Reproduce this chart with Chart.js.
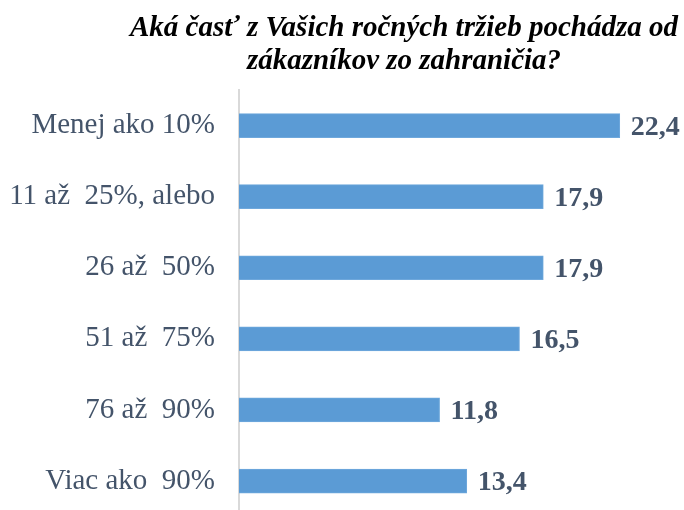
<html>
<head>
    <meta name="viewport" content="width=device-width">
    <script src="https://cdn.jsdelivr.net/npm/chart.js@4.4.1/dist/chart.umd.min.js"></script>
    <style>
        *{padding:0; margin:0; background-color: transparent;}
        body{overflow:hidden; background:#fff;}
        #title{position:absolute; left:124px; top:10px; width:560px; text-align:center;
               font-family:'Liberation Serif'; font-weight:bold; font-style:italic;
               font-size:29px; line-height:33px; color:#000;}
        #chart{position:absolute; left:0; top:0;}
    </style>
</head>
<body>
    <canvas id="chart" width="684" height="550"></canvas>
    <div id="title"></div>
    <script>
        var categories = ["Menej ako 10%", "11 až  25%, alebo", "26 až  50%", "51 až  75%", "76 až  90%", "Viac ako  90%"];
        var values = [22.4, 17.9, 17.9, 16.5, 11.8, 13.4];
        var titleLines = ["Aká časť z Vašich ročných tržieb pochádza od", "zákazníkov zo zahraničia?"];

        document.getElementById("title").innerHTML = titleLines.join("<br>");

        var valueLabels = {
            id: "valueLabels",
            afterDatasetsDraw: function(chart) {
                var ctx = chart.ctx;
                var meta = chart.getDatasetMeta(0);
                ctx.save();
                ctx.font = "bold 28px 'Liberation Serif'";
                ctx.fillStyle = "#44546A";
                ctx.textAlign = "left";
                ctx.textBaseline = "middle";
                meta.data.forEach(function(bar, i) {
                    var txt = values[i].toFixed(1).replace(".", ",");
                    ctx.fillText(txt, bar.x + 11, bar.y + 2);
                });
                ctx.restore();
            }
        };

        var ctx = document.getElementById("chart").getContext("2d");
        var chart = new Chart(ctx, {
            type: "bar",
            data: {
                labels: categories,
                datasets: [{
                    data: values,
                    backgroundColor: "#5B9BD5",
                    borderColor: "#6FA8DC",
                    borderWidth: 1,
                    barThickness: 24
                }]
            },
            options: {
                indexAxis: "y",
                responsive: false,
                animation: false,
                layout: {padding: {left: 0, right: 3, top: 90, bottom: 0}},
                plugins: {
                    legend: {display: false},
                    tooltip: {enabled: false},
                    title: {display: false}
                },
                scales: {
                    x: {
                        display: false,
                        min: 0,
                        max: 26
                    },
                    y: {
                        grid: {display: false},
                        border: {display: true, color: "#D9D9D9", width: 2},
                        ticks: {
                            color: "#44546A",
                            padding: 16,
                            font: {family: "'Liberation Serif'", size: 29}
                        },
                        afterFit: function(scale) { scale.width = 239; }
                    }
                }
            },
            plugins: [valueLabels]
        });
    </script>
</body>
</html>
